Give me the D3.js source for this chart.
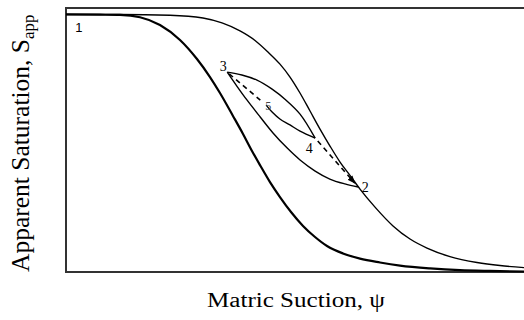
<!DOCTYPE html>
<html>
<head>
<meta charset="utf-8">
<script src="https://cdn.jsdelivr.net/npm/d3@7"></script>
<style>
  html, body { margin: 0; padding: 0; background: #fff; }
  svg { display: block; }
</style>
</head>
<body>
<svg id="chart" width="524" height="320"></svg>
<script>
// Main wetting curve (heavy line): matric suction (relative units) vs apparent saturation
const wettingSuction = [0, 7.42, 11.79, 16.16, 20.52, 24.89, 28.6, 31.44, 33.62, 36.46, 38.65, 40.61, 42.36, 44.54, 46.72, 49.13, 51.75, 54.37, 56.99, 60.48, 64.19, 68.56, 72.93, 79.48, 86.03, 92.58, 100];
const wettingSat     = [1.0, 0.999, 0.998, 0.989, 0.959, 0.901, 0.827, 0.757, 0.695, 0.606, 0.536, 0.470, 0.415, 0.349, 0.291, 0.233, 0.179, 0.136, 0.101, 0.072, 0.052, 0.037, 0.025, 0.014, 0.007, 0.004, 0.002];

// Main drying curve (light line)
const dryingSuction = [0, 11.79, 22.71, 29.91, 34.06, 37.99, 41.27, 44.1, 46.72, 48.91, 51.09, 53.28, 55.46, 57.64, 59.83, 62.01, 64.19, 67.47, 71.4, 75.11, 78.82, 83.84, 89.74, 94.76, 100];
const dryingSat     = [1.0, 1.0, 0.997, 0.986, 0.967, 0.936, 0.899, 0.854, 0.807, 0.757, 0.695, 0.625, 0.555, 0.489, 0.427, 0.375, 0.322, 0.252, 0.179, 0.128, 0.093, 0.060, 0.037, 0.025, 0.017];

// Scanning curves between the turning points
const scan32Suction = [35.2, 37.3, 39.5, 42.4, 45.2, 48.3, 51.1, 54.4, 57.6, 60.9, 63.8];
const scan32Sat     = [0.776, 0.722, 0.668, 0.602, 0.540, 0.481, 0.435, 0.392, 0.361, 0.342, 0.330];
const scan34Suction = [35.2, 38.4, 41.7, 45.0, 48.0, 51.1, 54.4];
const scan34Sat     = [0.776, 0.765, 0.745, 0.710, 0.668, 0.613, 0.520];
const scan45Suction = [54.4, 51.1, 48.9, 46.7, 45.0, 43.7];
const scan45Sat     = [0.520, 0.547, 0.571, 0.594, 0.621, 0.648];

// Numbered turning points
const pointLabels  = ["2", "3", "4", "5"];
const pointSuction = [63.8, 35.2, 54.4, 43.7];
const pointSat     = [0.330, 0.776, 0.520, 0.648];

const svg = d3.select("#chart");
const plot = { left: 66, top: 8, right: 524, bottom: 272 };

const x = d3.scaleLinear().domain([0, 100]).range([plot.left, plot.right]);
const y = d3.scaleLinear().domain([0, 1.025]).range([plot.bottom, plot.top]);

const zip = (xs, ys) => xs.map((v, i) => [v, ys[i]]);
const mainLine = d3.line().x(d => x(d[0])).y(d => y(d[1])).curve(d3.curveMonotoneX);
const scanLine = d3.line().x(d => x(d[0])).y(d => y(d[1])).curve(d3.curveCatmullRom.alpha(0.5));

// Frame (open on the right, running past the edge)
svg.append("path")
  .attr("d", `M${plot.right + 20},${plot.top}H${plot.left}V${plot.bottom}H${plot.right + 20}`)
  .attr("fill", "none").attr("stroke", "#333").attr("stroke-width", 2);

// Main curves
svg.append("path").attr("d", mainLine(zip(dryingSuction, dryingSat)))
  .attr("fill", "none").attr("stroke", "#000").attr("stroke-width", 1.4);
svg.append("path").attr("d", mainLine(zip(wettingSuction, wettingSat)))
  .attr("fill", "none").attr("stroke", "#000").attr("stroke-width", 2.2);

// Scanning curves
[[scan32Suction, scan32Sat], [scan34Suction, scan34Sat], [scan45Suction, scan45Sat]].forEach(([s, t]) => {
  svg.append("path").attr("d", scanLine(zip(s, t)))
    .attr("fill", "none").attr("stroke", "#000").attr("stroke-width", 1.4);
});

// Dashed path 3 → 5 and 4 → 2 with arrowhead
svg.append("defs").append("marker")
  .attr("id", "arrow").attr("viewBox", "0 0 10 10").attr("refX", 9).attr("refY", 5)
  .attr("markerWidth", 5).attr("markerHeight", 5).attr("orient", "auto")
  .append("path").attr("d", "M0,1L10,5L0,9Z").attr("fill", "#000");

const p = i => [x(pointSuction[i]), y(pointSat[i])];
const [p2, p3, p4, p5] = [0, 1, 2, 3].map(p);
const lerp = (a, b, t) => [a[0] + (b[0] - a[0]) * t, a[1] + (b[1] - a[1]) * t];

const d35a = lerp(p3, p5, 0.05), d35b = lerp(p3, p5, 0.85);
svg.append("line").attr("x1", d35a[0]).attr("y1", d35a[1]).attr("x2", d35b[0]).attr("y2", d35b[1])
  .attr("stroke", "#000").attr("stroke-width", 1.6).attr("stroke-dasharray", "5,4");
const d42a = lerp(p4, p2, 0.06), d42b = lerp(p2, p4, 0.08);
svg.append("line").attr("x1", d42a[0]).attr("y1", d42a[1]).attr("x2", d42b[0]).attr("y2", d42b[1])
  .attr("stroke", "#000").attr("stroke-width", 1.6).attr("stroke-dasharray", "5,4")
  .attr("marker-end", "url(#arrow)");

// Point labels
const labelOffset = { "2": [7, 2], "3": [-4, -4], "4": [-6, 12], "5": [2, 2] };
pointLabels.forEach((lab, i) => {
  const [px, py] = p(i);
  svg.append("text").attr("x", px + labelOffset[lab][0]).attr("y", py + labelOffset[lab][1])
    .attr("text-anchor", "middle").attr("dominant-baseline", "middle")
    .attr("font-family", "Liberation Serif, Times New Roman, serif")
    .attr("font-size", lab === "5" ? 12 : 14)
    .attr("fill", lab === "5" ? "#444" : "#000")
    .text(lab);
});

// Start point label
svg.append("text").attr("x", x(2.8)).attr("y", y(0.945))
  .attr("text-anchor", "middle").attr("dominant-baseline", "middle")
  .attr("font-family", "Liberation Sans, Arial, sans-serif").attr("font-size", 13)
  .attr("fill", "#000").text("1");

// Axis titles
svg.append("text")
  .attr("x", 207).attr("y", 307)
  .attr("font-family", "Liberation Serif, Times New Roman, serif").attr("font-size", 20)
  .attr("textLength", 178).attr("lengthAdjust", "spacingAndGlyphs")
  .attr("fill", "#000").text("Matric Suction, ψ");

const yTitle = svg.append("text")
  .attr("transform", `translate(29,272) rotate(-90)`)
  .attr("font-family", "Liberation Serif, Times New Roman, serif").attr("font-size", 25.5)
  .attr("fill", "#000");
yTitle.append("tspan").text("Apparent Saturation, S");
yTitle.append("tspan").attr("font-size", 17).attr("dy", 5).text("app");
</script>
</body>
</html>
